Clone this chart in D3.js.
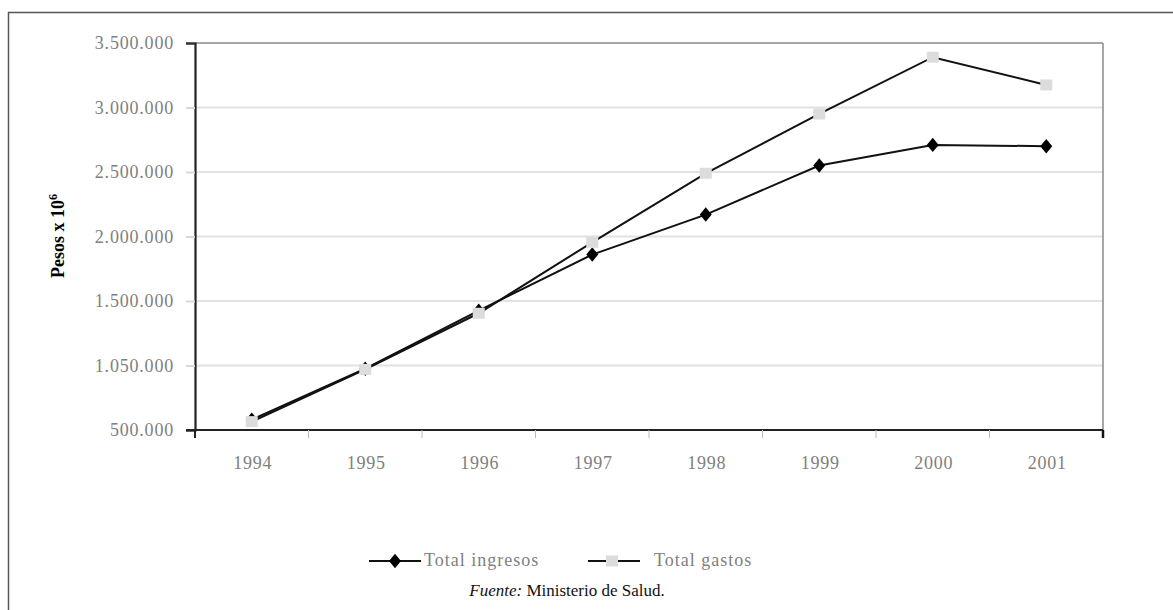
<!DOCTYPE html>
<html>
<head>
<meta charset="utf-8">
<script src="https://cdn.jsdelivr.net/npm/d3@7"></script>
<style>
  html, body { margin: 0; padding: 0; background: #fff; }
  svg { display: block; }
</style>
</head>
<body>
<svg id="chart" width="1173" height="610"></svg>
<script>
const years = ["1994","1995","1996","1997","1998","1999","2000","2001"];
const totalIngresos = [580000, 975000, 1425000, 1860000, 2170000, 2550000, 2710000, 2700000];
const totalGastos   = [565000, 970000, 1405000, 1955000, 2490000, 2950000, 3390000, 3175000];
const yTickValues = [500000, 1000000, 1500000, 2000000, 2500000, 3000000, 3500000];
const yTickLabels = ["500.000", "1.050.000", "1.500.000", "2.000.000", "2.500.000", "3.000.000", "3.500.000"];
const seriesNames = ["Total ingresos", "Total gastos"];

(function () {
const svg = d3.select("#chart");
const pL = 195, pR = 1103, pT = 43, pB = 430;
const serif = "'Liberation Serif', 'Times New Roman', serif";
const grayText = "#808080";

// outer frame
svg.append("rect").attr("x", 8.5).attr("y", 12.5).attr("width", 1200).attr("height", 700)
  .attr("fill", "none").attr("stroke", "#555").attr("stroke-width", 1.5);

const x = d3.scaleBand().domain(years).range([pL, pR]);
const y = d3.scaleLinear().domain([500000, 3500000]).range([pB, pT]);

// gridlines
svg.append("g").selectAll("line").data(yTickValues.slice(1, -1)).join("line")
  .attr("x1", pL).attr("x2", pR)
  .attr("y1", d => y(d)).attr("y2", d => y(d))
  .attr("stroke", "#e2e2e2").attr("stroke-width", 2);

// top & right frame
svg.append("line").attr("x1", pL).attr("x2", pR).attr("y1", pT).attr("y2", pT)
  .attr("stroke", "#8a8a8a").attr("stroke-width", 1.5);
svg.append("line").attr("x1", pR).attr("x2", pR).attr("y1", pT).attr("y2", pB)
  .attr("stroke", "#8a8a8a").attr("stroke-width", 1.5);

// y axis
const yAxis = d3.axisLeft(y).tickValues(yTickValues)
  .tickFormat((d, i) => yTickLabels[i]).tickSize(9).tickPadding(12);
const gy = svg.append("g").attr("transform", `translate(${pL},0)`).call(yAxis);
gy.select(".domain").attr("stroke", "#222").attr("stroke-width", 2.2);
gy.selectAll(".tick line").attr("stroke", "#d8d8d8").attr("stroke-width", 2);
gy.selectAll(".tick").filter(d => d === 500000 || d === 3500000).select("line").attr("stroke", "#333");
gy.selectAll("text").attr("font-family", serif).attr("font-size", 18)
  .attr("letter-spacing", 0.8).attr("fill", grayText);

// x axis
const gx = svg.append("g").attr("transform", `translate(0,${pB})`);
gx.append("line").attr("x1", pL - 9).attr("x2", pR).attr("y1", 0).attr("y2", 0)
  .attr("stroke", "#222").attr("stroke-width", 2.2);
gx.selectAll("line.bt").data(years).join("line").attr("class", "bt")
  .attr("x1", d => x(d)).attr("x2", d => x(d))
  .attr("y1", 0).attr("y2", 8)
  .attr("stroke", (d, i) => i === 0 ? "#222" : "#bbb").attr("stroke-width", (d, i) => i === 0 ? 2 : 1);
gx.append("line").attr("x1", pR).attr("x2", pR).attr("y1", 0).attr("y2", 8)
  .attr("stroke", "#111").attr("stroke-width", 2.5);
gx.selectAll("text.xl").data(years).join("text").attr("class", "xl")
  .attr("x", d => x(d) + x.bandwidth() / 2 + 1).attr("y", 39)
  .attr("text-anchor", "middle").attr("font-family", serif).attr("font-size", 18)
  .attr("letter-spacing", 0.8).attr("fill", grayText).text(d => d);

// y title
const yt = svg.append("text")
  .attr("transform", "translate(64,236) rotate(-90)")
  .attr("text-anchor", "middle").attr("font-family", serif).attr("font-size", 18)
  .attr("font-weight", "bold").attr("fill", "#000");
yt.append("tspan").text("Pesos x 10");
yt.append("tspan").attr("dy", -7).attr("font-size", 12).text("6");

// series
const cx = d => x(d) + x.bandwidth() / 2;
const line = d3.line().x(d => cx(d.year)).y(d => y(d.v));
const gastosData = years.map((yr, i) => ({year: yr, v: totalGastos[i]}));
const ingresosData = years.map((yr, i) => ({year: yr, v: totalIngresos[i]}));
const diamond = d3.symbol().type(d3.symbolSquare).size(72);

svg.append("path").datum(ingresosData).attr("d", line)
  .attr("fill", "none").attr("stroke", "#111").attr("stroke-width", 2);
svg.append("g").selectAll("path").data(ingresosData).join("path")
  .attr("d", diamond)
  .attr("transform", d => `translate(${cx(d.year)},${y(d.v)}) scale(1,1.2) rotate(45)`)
  .attr("fill", "#000");

svg.append("path").datum(gastosData).attr("d", line)
  .attr("fill", "none").attr("stroke", "#111").attr("stroke-width", 2);
svg.append("g").selectAll("rect").data(gastosData).join("rect")
  .attr("x", d => cx(d.year) - 6).attr("y", d => y(d.v) - 5.5)
  .attr("width", 12).attr("height", 11).attr("fill", "#dcdcdc");

// legend
const lg = svg.append("g");
const ly = 561;
lg.append("line").attr("x1", 369).attr("x2", 421).attr("y1", ly).attr("y2", ly)
  .attr("stroke", "#111").attr("stroke-width", 2);
lg.append("path").attr("d", diamond).attr("transform", `translate(395,${ly}) scale(1,1.2) rotate(45)`).attr("fill", "#000");
lg.append("text").attr("x", 424).attr("y", ly + 5).attr("font-family", serif).attr("font-size", 18)
  .attr("letter-spacing", 1).attr("fill", grayText).text(seriesNames[0]);
lg.append("line").attr("x1", 588).attr("x2", 640).attr("y1", ly).attr("y2", ly)
  .attr("stroke", "#111").attr("stroke-width", 2);
lg.append("rect").attr("x", 606).attr("y", ly - 5.5).attr("width", 12).attr("height", 11).attr("fill", "#dcdcdc");
lg.append("text").attr("x", 654).attr("y", ly + 5).attr("font-family", serif).attr("font-size", 18)
  .attr("letter-spacing", 1).attr("fill", grayText).text(seriesNames[1]);

// source
const src = svg.append("text").attr("x", 567).attr("y", 596).attr("text-anchor", "middle")
  .attr("font-family", serif).attr("font-size", 17).attr("fill", "#111");
src.append("tspan").attr("font-style", "italic").text("Fuente:");
src.append("tspan").text(" Ministerio de Salud.");
})();
</script>
</body>
</html>
